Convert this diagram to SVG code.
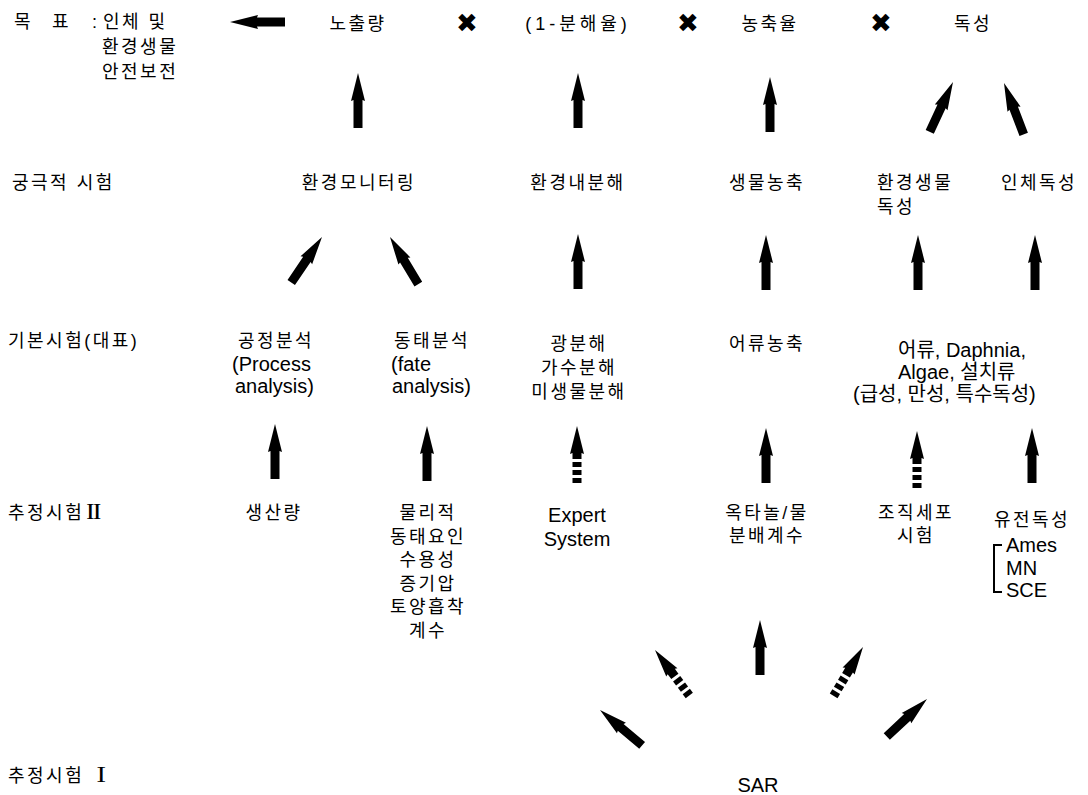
<svg xmlns="http://www.w3.org/2000/svg" xmlns:xlink="http://www.w3.org/1999/xlink" width="1088" height="795" viewBox="0 0 1088 795">
<style>
text{font-family:'Liberation Sans','Noto Sans CJK KR',sans-serif;font-size:20px;fill:#000}
.k{font-size:18px;letter-spacing:2.5px}
.m{text-anchor:middle}
.x{font-size:26px;font-family:'DejaVu Sans',sans-serif}
.r{font-family:'Liberation Serif','Noto Serif CJK KR','Noto Sans CJK KR',serif;font-weight:bold;font-size:19px;letter-spacing:0}
</style>
<defs>
<path id="arr" d="M0,0 L7,28 L4.5,27 L4.5,55 L-4.5,55 L-4.5,27 L-7,28 Z" fill="#000"/>
<g id="darr" fill="#000">
<path d="M0,0 L7,28 L4.5,27 L4.5,33 L-4.5,33 L-4.5,27 L-7,28 Z"/>
<rect x="-4.5" y="36" width="9" height="5"/>
<rect x="-4.5" y="44" width="9" height="5"/>
<rect x="-4.5" y="52" width="9" height="5"/>
</g>
</defs>
<rect width="1088" height="795" fill="#fff"/>
<g id="row-labels">
<text x="14" y="28" class="k">목</text>
<text x="52" y="28" class="k">표</text>
<text x="92" y="28" class="k">:</text>
<text x="103" y="28" class="k">인체 및</text>
<text x="102" y="53" class="k">환경생물</text>
<text x="102" y="78" class="k">안전보전</text>
<text x="12" y="189" class="k">궁극적 시험</text>
<text x="8" y="347" class="k">기본시험(대표)</text>
<text x="8" y="519" class="k">추정시험<tspan class="r">Ⅱ</tspan></text>
<text x="8" y="782" class="k">추정시험 <tspan class="r">Ⅰ</tspan></text>
</g>
<g id="goal">
<text x="358" y="30" class="k m">노출량</text>
<text x="467" y="32" class="x m">✖</text>
<text x="578" y="30" class="k m" style="letter-spacing:4px">(1-분해율)</text>
<text x="688" y="32" class="x m">✖</text>
<text x="770" y="30" class="k m">농축율</text>
<text x="881" y="32" class="x m">✖</text>
<text x="973" y="30" class="k m">독성</text>
</g>
<g id="ultimate">
<text x="359" y="189" class="k m">환경모니터링</text>
<text x="578" y="189" class="k m">환경내분해</text>
<text x="767" y="189" class="k m">생물농축</text>
<text x="877" y="189" class="k">환경생물</text>
<text x="877" y="213" class="k">독성</text>
<text x="1039" y="189" class="k m">인체독성</text>
</g>
<g id="basic">
<text x="276" y="347" class="k m">공정분석</text>
<text x="232" y="371">(Process</text>
<text x="235" y="393">analysis)</text>
<text x="432" y="347" class="k m">동태분석</text>
<text x="391" y="371">(fate</text>
<text x="392" y="393">analysis)</text>
<text x="579" y="350" class="k m">광분해</text>
<text x="579" y="374" class="k m">가수분해</text>
<text x="579" y="398" class="k m">미생물분해</text>
<text x="767" y="350" class="k m">어류농축</text>
<text x="898" y="357">어류, Daphnia,</text>
<text x="898" y="379">Algae, 설치류</text>
<text x="853" y="401">(급성, 만성, 특수독성)</text>
</g>
<g id="estimate2">
<text x="274" y="519" class="k m">생산량</text>
<text x="428" y="519" class="k m">물리적</text>
<text x="428" y="542.5" class="k m">동태요인</text>
<text x="428" y="566" class="k m">수용성</text>
<text x="428" y="589.5" class="k m">증기압</text>
<text x="428" y="613" class="k m">토양흡착</text>
<text x="428" y="636.5" class="k m">계수</text>
<text x="577" y="522" class="m">Expert</text>
<text x="577" y="546" class="m">System</text>
<text x="767" y="519" class="k m">옥타놀/물</text>
<text x="767" y="542" class="k m">분배계수</text>
<text x="916" y="519" class="k m">조직세포</text>
<text x="916" y="542" class="k m">시험</text>
<text x="1032" y="526" class="k m">유전독성</text>
<path d="M1002,545 H994 V592 H1002" fill="none" stroke="#000" stroke-width="2"/>
<text x="1006" y="552">Ames</text>
<text x="1006" y="575">MN</text>
<text x="1006" y="597">SCE</text>
</g>
<g id="sar">
<text x="758" y="792" class="m">SAR</text>
</g>
<g id="connectors">
<use xlink:href="#arr" transform="translate(230,22) rotate(-90)"/>
<use xlink:href="#arr" transform="translate(358,73)"/>
<use xlink:href="#arr" transform="translate(578,73)"/>
<use xlink:href="#arr" transform="translate(770,77)"/>
<use xlink:href="#arr" transform="translate(953,82) rotate(25)"/>
<use xlink:href="#arr" transform="translate(1004,83) rotate(-21)"/>
<use xlink:href="#arr" transform="translate(322,237) rotate(34)"/>
<use xlink:href="#arr" transform="translate(390,237) rotate(-31)"/>
<use xlink:href="#arr" transform="translate(578,234)"/>
<use xlink:href="#arr" transform="translate(766,235)"/>
<use xlink:href="#arr" transform="translate(918,235)"/>
<use xlink:href="#arr" transform="translate(1035,235)"/>
<use xlink:href="#arr" transform="translate(275,424)"/>
<use xlink:href="#arr" transform="translate(427,426)"/>
<use xlink:href="#darr" transform="translate(577,426)"/>
<use xlink:href="#arr" transform="translate(766,428)"/>
<use xlink:href="#darr" transform="translate(917,431)"/>
<use xlink:href="#arr" transform="translate(1032,428)"/>
<use xlink:href="#arr" transform="translate(760,620)"/>
<use xlink:href="#darr" transform="translate(655,650) rotate(-37)"/>
<use xlink:href="#darr" transform="translate(863,647) rotate(31)"/>
<use xlink:href="#arr" transform="translate(600,710) rotate(-50)"/>
<use xlink:href="#arr" transform="translate(927,699) rotate(47)"/>
</g>
</svg>
